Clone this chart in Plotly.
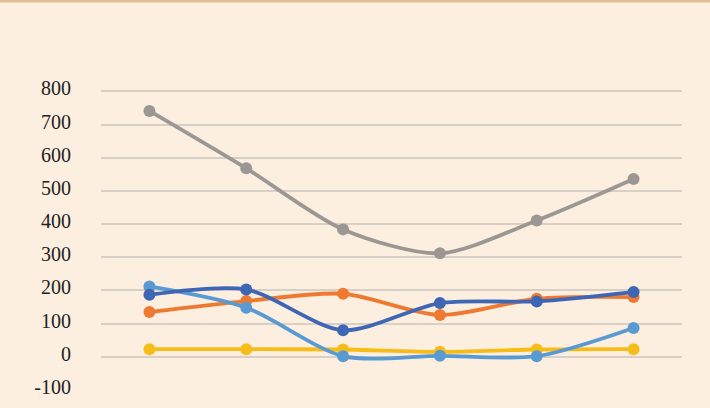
import plotly.graph_objects as go

categories = ["1", "2", "3", "4", "5", "6"]
gray_vals = [741, 568, 384, 312, 411, 536]
orange_vals = [135, 168, 190, 126, 175, 180]
darkblue_vals = [187, 203, 80, 162, 167, 195]
lightblue_vals = [212, 148, 2, 3, 2, 87]
yellow_vals = [23, 23, 22, 15, 22, 23]
y_ticks = [-100, 0, 100, 200, 300, 400, 500, 600, 700, 800]
y_tick_labels = ["-100", "0", "100", "200", "300", "400", "500", "600", "700", "800"]

series = [
    ("Series 3", gray_vals, "#9c9792"),
    ("Series 1", orange_vals, "#ee7a32"),
    ("Series 5", yellow_vals, "#f7bc18"),
    ("Series 4", lightblue_vals, "#5a9ad3"),
    ("Series 2", darkblue_vals, "#3f66b5"),
]

fig = go.Figure()
for name, vals, color in series:
    fig.add_trace(go.Scatter(
        x=categories, y=vals, name=name, mode="lines+markers",
        line=dict(color=color, width=3.8, shape="spline", smoothing=0.8),
        marker=dict(color=color, size=12),
    ))

fig.update_layout(
    width=710, height=408,
    paper_bgcolor="#fcefe0", plot_bgcolor="#fcefe0",
    margin=dict(l=101, r=28, t=88, b=18, autoexpand=False),
    showlegend=False,
    font=dict(family="Liberation Serif, Times New Roman, serif", size=20, color="#222222"),
    xaxis=dict(type="category", range=[-0.5, 5.5], showticklabels=False,
               showgrid=False, zeroline=False, showline=False, automargin=False),
    yaxis=dict(range=[-100, 810], tickvals=y_ticks, ticktext=y_tick_labels, showgrid=True,
               gridcolor="#d8cfc7", gridwidth=1.5, zeroline=False, showline=False,
               automargin=False, ticklabelstandoff=29, ticklabelshift=-3,
               tickfont=dict(family="Liberation Serif, Times New Roman, serif", size=20)),
    shapes=[dict(type="line", xref="paper", yref="paper",
                 x0=-101 / 581, x1=1 + 28 / 581,
                 y0=1 + 87 / 302, y1=1 + 87 / 302,
                 line=dict(color="#e3be92", width=3))],
)
fig.write_html("out.html", post_script="document.body.style.margin='0';",
               config={"displayModeBar": False})
